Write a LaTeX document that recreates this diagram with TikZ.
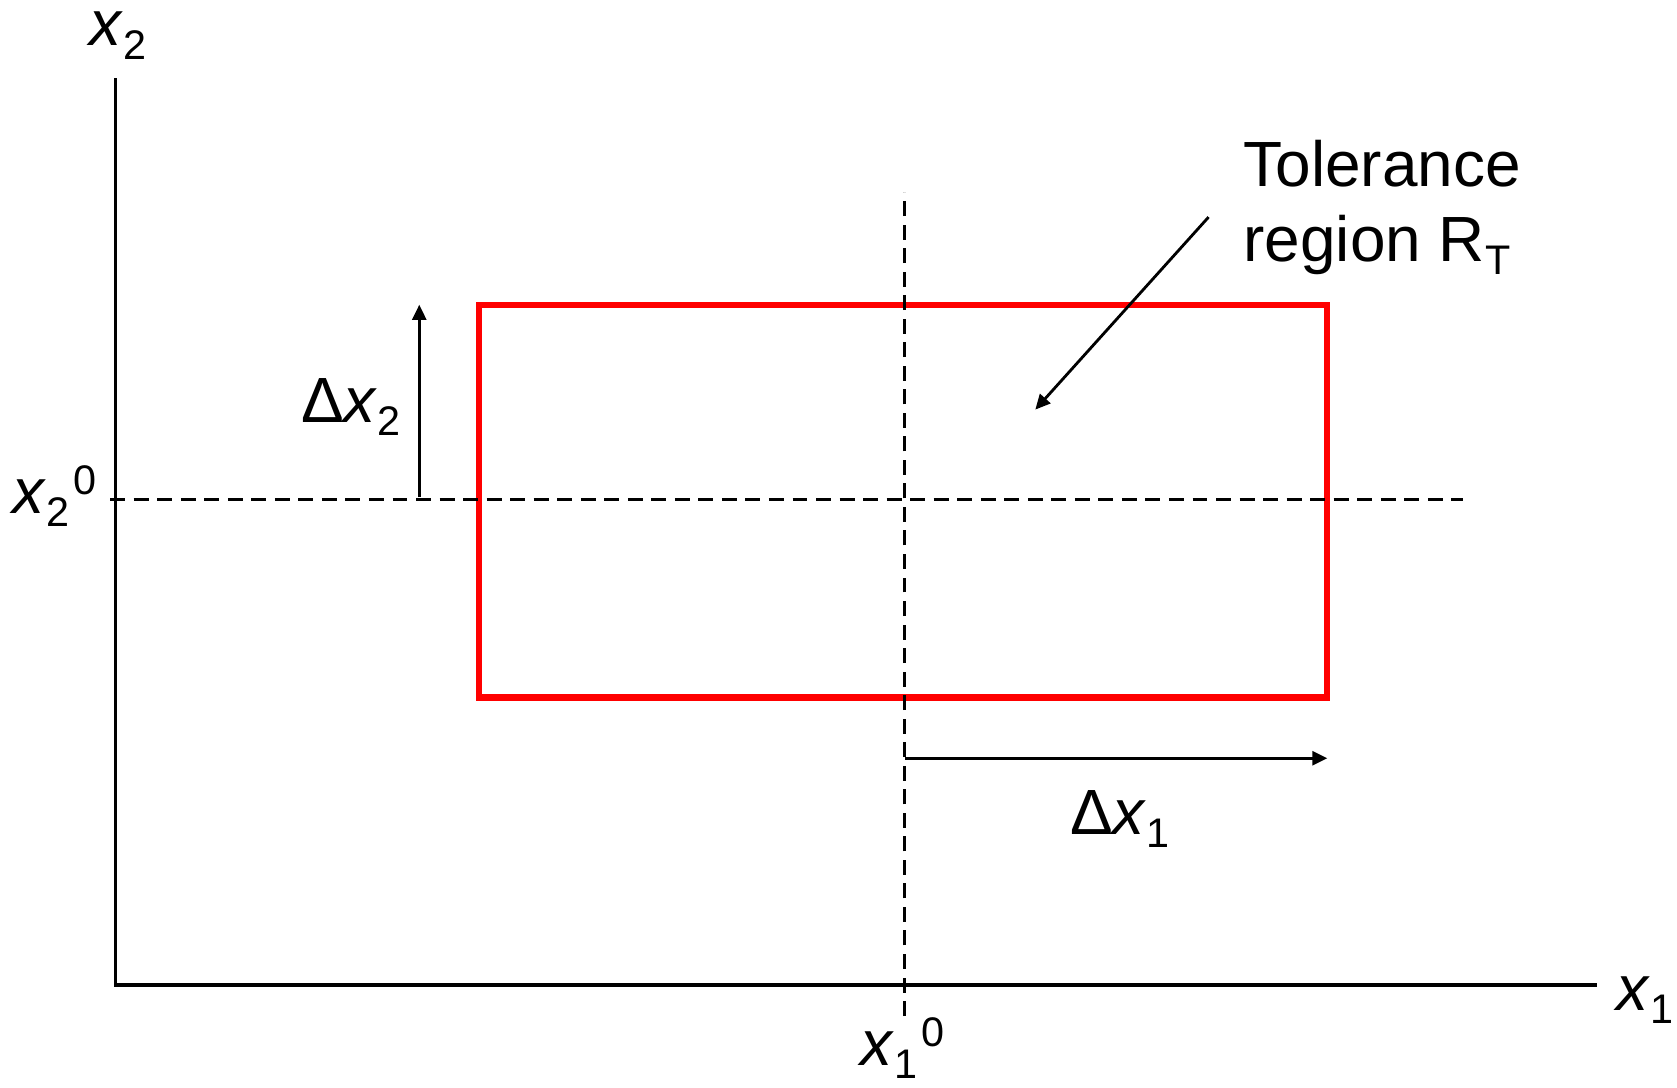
\documentclass[tikz,border=0pt]{standalone}
\usepackage{fontspec}
\setmainfont{Liberation Sans}
\usepackage{tikz}
\usetikzlibrary{arrows.meta, positioning, calc}
\newcommand{\lowidx}[1]{\raisebox{-3.5pt}{\fontsize{11}{11}\selectfont #1}}
\newcommand{\upidx}[1]{\raisebox{5pt}{\fontsize{11}{11}\selectfont #1}}
\newcommand{\vx}{\textit{x}}

\begin{document}
\begin{tikzpicture}[
    every node/.style={font=\fontsize{17}{20}\selectfont, inner sep=0pt},
    axis/.style={line width=0.9pt},
    tolbox/.style={draw=red, line width=1.7pt, outer sep=0pt},
    guide/.style={line width=0.85pt, dash pattern=on 1.4mm off 0.8mm},
    dimarrow/.style={-{Triangle[length=1.4mm, width=1.3mm]}, line width=0.75pt},
]
    \useasboundingbox (0,0) rectangle (15.68,10.17);

    % axes
    \coordinate (O) at (1.08,0.96);
    \coordinate (ytop) at (1.08,9.44);
    \coordinate (xend) at (14.93,0.96);
    \draw[axis] (ytop) -- (O) -- (xend);
    \node[anchor=base] (x2lbl) at (1.10,9.74) {\vx\lowidx{2}};
    \node[anchor=base] (x1lbl) at (15.38,0.72) {\vx\lowidx{1}};

    % nominal point and tolerance box
    \coordinate (c) at (8.46,5.50);
    \node[tolbox, minimum width=7.93cm, minimum height=3.67cm] (tol) at (8.445,5.485) {};

    \coordinate (vbot) at (8.46,0.67);
    \coordinate (vtop) at (8.46,8.37);
    \coordinate (hleft) at (1.03,5.50);
    \coordinate (hright) at (13.68,5.50);
    \draw[guide] (vbot) -- (vtop);
    \draw[guide] (hleft) -- (hright);
    \node[anchor=base] (x20) at (0.51,5.37) {\vx\lowidx{2}\kern1pt\upidx{0}};
    \node[anchor=base] (x10) at (8.44,0.21) {\vx\lowidx{1}\kern1pt\upidx{0}};

    % half widths
    \coordinate (d2a) at (3.92,5.52);
    \draw[dimarrow] (d2a) -- (d2a |- tol.north);
    \node[anchor=base] (dx2) at (3.28,6.22) {Δ\vx\lowidx{2}};
    \coordinate (d1a) at (8.46,3.08);
    \draw[dimarrow] (d1a) -- (d1a -| tol.east);
    \node[anchor=base] (dx1) at (10.47,2.37) {Δ\vx\lowidx{1}};

    % label for the region
    \node[anchor=north west, align=left] (tollbl) at (11.62,8.87) {Tolerance\\region R\lowidx{T}};
    \coordinate (lead) at (11.30,8.14);
    \coordinate (leadtip) at (9.68,6.34);
    \draw[dimarrow] (lead) -- (leadtip);
\end{tikzpicture}
\end{document}
